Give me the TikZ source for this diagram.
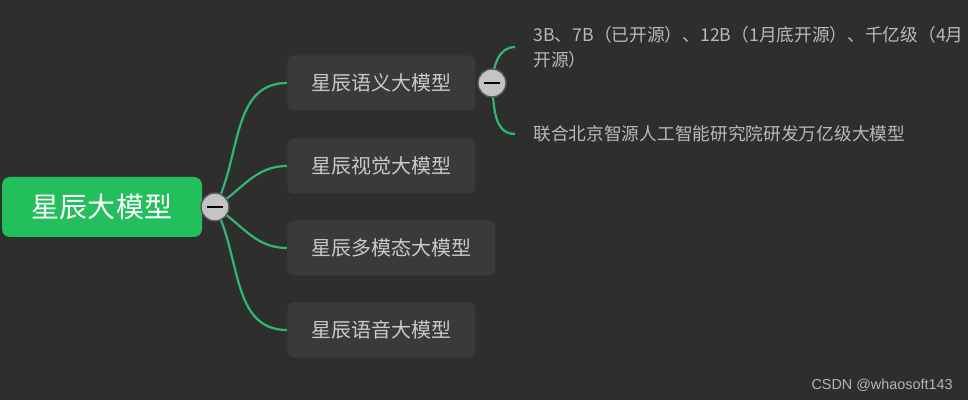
\documentclass[tikz,border=0pt]{standalone}
\usepackage{fontspec}
\setmainfont{Noto Sans CJK SC}
\newfontfamily\wmfont{Liberation Sans}
\definecolor{bgdark}{HTML}{2E2E2E}
\definecolor{boxdark}{HTML}{3A3A3A}
\definecolor{rootgreen}{HTML}{22BF5C}
\definecolor{linkgreen}{HTML}{2EB872}
\definecolor{textgray}{HTML}{C9C9C9}
\definecolor{foldgray}{HTML}{C4C4C4}
\begin{document}
\begin{tikzpicture}[x=0.5pt, y=0.5pt,
		rootbox/.style={fill=rootgreen, rounded corners=4pt, minimum width=100pt, minimum height=30pt, text=white, font=\fontsize{14pt}{16pt}\selectfont},
		childbox/.style={fill=boxdark, rounded corners=3pt, anchor=west, minimum height=27.5pt, inner xsep=12pt, text=textgray, font=\fontsize{10pt}{12pt}\selectfont},
		leaf/.style={anchor=west, inner xsep=9pt, inner ysep=0pt, align=left, text=textgray!92!black, font=\fontsize{8.85pt}{12.5pt}\selectfont},
		fold/.style={circle, fill=foldgray, draw=gray!70!black, line width=0.7pt, minimum size=14pt, inner sep=0pt,
			path picture={\draw[black, line width=1pt] ([xshift=-4pt]path picture bounding box.center) -- ([xshift=4pt]path picture bounding box.center);}},
		link/.style={linkgreen, line width=1.1pt}]
			\useasboundingbox (0,0) rectangle (968,-400);
			\clip (0,0) rectangle (968,-400);
			\fill[bgdark] (0,0) rectangle (968,-400);
			\node[rootbox] (root) at (102,-207) {星辰大模型};
			\node[childbox] (c1) at (287,-83) {星辰语义大模型};
			\node[childbox] (c2) at (287,-166) {星辰视觉大模型};
			\node[childbox] (c3) at (287,-248) {星辰多模态大模型};
			\node[childbox] (c4) at (287,-330) {星辰语音大模型};
			\node[leaf] (l1) at (515,-47) {3B、7B（已开源）、12B（1月底开源）、千亿级（4月\\开源）};
			\node[leaf] (l2) at (515,-134) {联合北京智源人工智能研究院研发万亿级大模型};
			\coordinate (rootc) at (215,-207);
			\coordinate (subc) at (492,-83);
			\draw[link] (rootc) to[out=62,in=180] (c1.west);
			\draw[link] (rootc) to[out=32,in=180] (c2.west);
			\draw[link] (rootc) to[out=-32,in=180] (c3.west);
			\draw[link] (rootc) to[out=-62,in=180] (c4.west);
			\draw[link] (subc) to[out=85,in=180] (l1.west);
			\draw[link] (subc) to[out=-85,in=180] (l2.west);
			\node[fold] (rootfold) at (rootc) {};
			\node[fold] (subfold) at (subc) {};
			\node[anchor=east, inner sep=0pt, text=textgray!90!black, font=\wmfont\fontsize{7.2pt}{8pt}\selectfont] (mark) at (953,-385) {CSDN @whaosoft143};
		\end{tikzpicture}
\end{document}
